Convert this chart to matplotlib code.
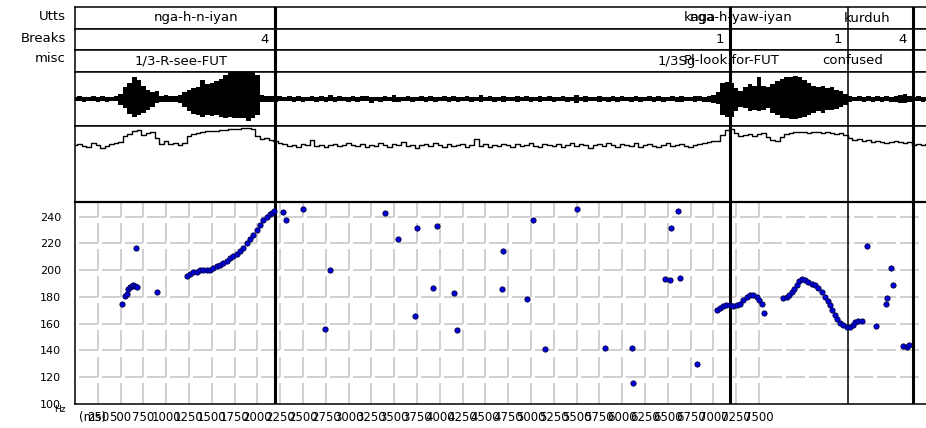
import numpy as np
import matplotlib.pyplot as plt

plt.rcParams['font.family'] = 'DejaVu Sans'

W, H = 926, 428
MS_PX = 10.965          # ms per pixel on the time axis
X0, X1 = 75, 930        # panel edges in pixels
T_END = (X1 - X0) * MS_PX
FRAME = 50              # ms per frame for waveform / intensity

# boundaries (ms) and their break indices
bounds = [2193, 7182, 8476, 9189]
bound_lw = [2.2, 2.2, 1.1, 2.2]
breaks = ['4', '1', '1', '4']

# label tiers: (text, time in ms, alignment)
utts = [('nga-h-n-iyan', 1329, 'center'), ('kaga', 6676, 'left'),
        ('nga-h-yaw-iyan', 6740, 'left'), ('kurduh', 8685, 'center')]
misc = [('1/3-R-see-FUT', 1164, 'center'), ('1/3Sg', 6390, 'left'),
        ('Pl-look.for-FUT', 6676, 'left'), ('confused', 8531, 'center')]

# waveform envelope per frame (upper / lower magnitude)
wave_hi = [.08, .1, .07, .09, .12, .08, .1, .07, .09, .11,
           .2, .45, .6, .8, .72, .5, .35, .25, .3, .12, .15, .1, .12, .14, .25, .35, .4, .45,
           .7, .55, .6, .65, .75, .9, 1.0, 1.0, 1.0, 1.0, 1.0, 1.0, .9, .15, .12, .1, .12, .1,
           .08, .1, .07, .12, .09, .08, .11, .07, .1, .09,
           .13, .08, .1, .07, .09, .11, .08, .1, .12, .08,
           .09, .07, .1, .08, .14, .09, .08, .1, .07, .09,
           .11, .08, .1, .09, .07, .12, .08, .1, .09, .08,
           .1, .07, .09, .13, .08, .1, .09, .07, .11, .08,
           .09, .1, .08, .12, .07, .09, .1, .08, .11, .09,
           .08, .1, .07, .09, .15, .08, .1, .09, .08, .11,
           .07, .09, .1, .08, .12, .09, .08, .1, .07, .09,
           .11, .08, .1, .09, .08, .12, .07, .1, .09, .08,
           .1, .11, .09, .12, .15,
           .25, .6, .63, .6, .4, .3, .45, .55, .5, .8, .5, .45, .55, .65, .75,
           .8, .82, .85, .8, .7, .6, .5, .45, .48, .4, .45, .35, .3, .2, .12,
           .08, .1, .09, .12, .08, .1, .09, .11, .08, .1, .15, .18, .12, .09, .1, .08, .09]
wave_lo = [.09, .07, .1, .08, .09, .12, .07, .1, .08, .09,
           .22, .35, .55, .68, .6, .5, .4, .3, .15, .12, .1, .12, .1, .13, .3, .45, .55, .6,
           .65, .6, .62, .6, .65, .7, .68, .72, .7, .72, .8, .72, .6, .12, .1, .12, .1, .09,
           .09, .07, .1, .08, .11, .09, .07, .1, .08, .12,
           .08, .1, .07, .09, .11, .08, .1, .07, .09, .13,
           .08, .1, .09, .07, .1, .12, .08, .09, .1, .07,
           .09, .11, .08, .1, .07, .09, .12, .08, .1, .09,
           .07, .1, .08, .11, .09, .08, .1, .07, .12, .09,
           .08, .1, .09, .07, .11, .08, .1, .09, .08, .12,
           .09, .07, .1, .08, .13, .09, .1, .08, .07, .1,
           .09, .11, .08, .1, .07, .09, .12, .08, .1, .09,
           .08, .1, .07, .11, .09, .08, .1, .12, .09, .08,
           .1, .09, .11, .1, .14,
           .2, .6, .67, .65, .45, .3, .35, .45, .4, .45, .4, .35, .5, .6, .7,
           .72, .75, .75, .72, .68, .6, .5, .45, .5, .42, .4, .38, .3, .22, .12,
           .09, .08, .1, .09, .11, .08, .1, .09, .1, .12, .16, .14, .1, .08, .09, .1, .08]

# intensity contour per frame (dB)
intensity = [57, 58, 56, 55, 59, 57, 54, 56, 58, 59,
             60, 66, 68, 71, 72, 67, 69, 70, 64, 58, 61, 58, 59, 57, 59, 66, 68, 69,
             70, 71, 71, 71, 72, 72, 73, 73, 73, 74, 74, 73, 66, 63, 64, 62, 61, 59,
             58, 56, 57, 55, 58, 57, 62, 56, 57, 55,
             57, 58, 56, 57, 59, 57, 56, 58, 55, 57,
             56, 59, 57, 55, 58, 57, 60, 56, 57, 54,
             57, 58, 56, 59, 57, 55, 58, 56, 57, 58,
             55, 57, 63, 56, 58, 55, 57, 56, 58, 57,
             55, 58, 56, 57, 59, 56, 55, 58, 57, 56,
             58, 55, 57, 59, 56, 58, 57, 54, 57, 58,
             56, 59, 57, 55, 58, 57, 56, 59, 55, 57,
             58, 56, 55, 57, 59, 56, 57, 58, 56, 55,
             57, 58, 59, 60, 61,
             61, 67, 72, 73, 69, 66, 67, 68, 66, 68, 69, 65, 62, 61, 65, 68,
             69, 70, 70, 70, 69, 70, 70, 69, 70, 69, 68, 69, 67, 64, 62, 63,
             61, 62, 60, 61, 60, 59, 60, 61, 60, 59, 60, 57, 58, 57, 58]

# F0 track (ms, Hz)
pitch_t = [512, 548, 567, 584, 603, 622, 639, 658, 666, 680, 902,
           1225, 1261, 1297, 1334, 1371, 1407, 1444, 1480, 1516, 1554, 1590, 1626, 1663,
           1700, 1736, 1773, 1809, 1845, 1883, 1919, 1955, 1992, 2029, 2065, 2102, 2138,
           2157, 2182,
           2277, 2310, 2503, 2741, 2796, 3399, 3545, 3728, 3747, 3929, 3966, 4159, 4185,
           4679, 4696, 4953, 5025, 5154, 5501, 5811, 6104, 6122, 6469, 6524, 6535, 6615,
           6634, 6817,
           7043, 7072, 7102, 7138, 7182, 7218, 7256, 7292, 7328, 7365, 7401, 7438, 7475,
           7503, 7530, 7558,
           7766, 7804, 7832, 7859, 7887, 7913, 7939, 7968, 8004, 8041, 8078, 8114, 8150,
           8188, 8224, 8253, 8279, 8304, 8333, 8359, 8388, 8424, 8462, 8498, 8527, 8553,
           8589, 8626,
           8681, 8783, 8893, 8907, 8944, 8966, 9082, 9120, 9148]
pitch_hz = [175, 181, 182.5, 186, 187.5, 188, 188.8, 188, 216.8, 187.5, 184,
            196, 197.5, 198.8, 199, 199.8, 199.8, 199.8, 200, 201.8, 203, 203.8, 205.5, 207,
            208.8, 210.3, 212.3, 214.3, 216.8, 220, 223, 226.3, 230, 233.8, 237.5, 240, 241.8,
            242.5, 244,
            243.8, 237.5, 245.8, 155.8, 200, 242.5, 223.3, 165.8, 231.8, 186.8, 233.3, 183.3, 155,
            185.8, 214.3, 178.3, 237.5, 140.8, 245.8, 141.8, 141.8, 115.8, 193.3, 192.5, 231.8, 244.3,
            194.3, 130,
            170, 171.8, 173.3, 174.3, 173.8, 173, 173.8, 175, 177.5, 180, 181.3, 181.8, 180,
            177.5, 174.5, 168.3,
            179.3, 180, 181.8, 183.8, 185.8, 188.8, 191.8, 193.3, 192.5, 191.3, 190, 188.8, 186.8,
            183.8, 180, 176.8, 173.8, 170, 166.3, 163.3, 160.8, 159.3, 157.5, 157.5, 159.3, 161.3,
            161.8, 161.8,
            218.3, 158.3, 175, 179.3, 201.8, 189.3, 143.3, 142.5, 144.3]

hz_ticks = list(range(100, 241, 20))
ms_ticks = list(range(250, 7501, 250))

fig = plt.figure(figsize=(W / 100, H / 100), dpi=100)


def band(top, bot):
    ax = fig.add_axes([X0 / W, 1 - bot / H, (X1 - X0) / W, (bot - top) / H])
    ax.set_xlim(0, T_END)
    ax.set_xticks([])
    ax.set_yticks([])
    for s in ax.spines.values():
        s.set_linewidth(1.1)
    for b, lw in zip(bounds, bound_lw):
        ax.axvline(b, color='black', lw=lw, zorder=3)
    return ax


ax_u = band(7, 29)
ax_b = band(29, 50)
ax_m = band(50, 72)
ax_w = band(72, 126)
ax_i = band(126, 202)
ax_p = band(202, 404)

for name, y in [('Utts', 17), ('Breaks', 38), ('misc', 59)]:
    fig.text(66 / W, 1 - y / H, name, ha='right', va='center', fontsize=9.5)

for ax, tier in [(ax_u, utts), (ax_m, misc)]:
    for txt, t, ha in tier:
        ax.text(t, 0.5, txt, ha=ha, va='center', fontsize=9.5,
                transform=ax.get_xaxis_transform())

for b, lab in zip(bounds, breaks):
    ax_b.annotate(lab, (b, 0.5), xycoords=('data', 'axes fraction'),
                  xytext=(-6, 0), textcoords='offset pixels',
                  ha='right', va='center', fontsize=9.5)

# waveform
wt = np.arange(len(wave_hi)) * FRAME
ax_w.fill_between(wt, -np.array(wave_lo), wave_hi, step='mid', color='black', lw=0)
ax_w.set_ylim(-1, 1)

# intensity
it = np.arange(len(intensity)) * FRAME
ax_i.plot(it, intensity, drawstyle='steps-mid', color='black', lw=1.0)
ax_i.set_ylim(0, 76)

# pitch panel
ax_p.set_ylim(100, 251)
ax_p.spines['top'].set_linewidth(1.6)
ax_p.spines['right'].set_visible(False)

# broken grid: each cell keeps its bottom and right edges
gx = [0] + ms_ticks
gap_t, gap_hz = 44, 4.5
for y in hz_ticks[1:]:
    cells = list(zip(gx[:-1], gx[1:])) + [(c, c + 250) for c in range(7500, 9250, 250)]
    ax_p.hlines([y] * len(cells), [a + gap_t for a, _ in cells], [b for _, b in cells],
                color='#c8c8c8', lw=1.2, zorder=1)
levels = hz_ticks + [251]
for x in ms_ticks:
    lo = levels[:-1]
    hi = [u - gap_hz if u < 251 else u for u in levels[1:]]
    ax_p.vlines([x] * len(lo), lo, hi, color='#c8c8c8', lw=1.2, zorder=1)

ax_p.plot(pitch_t, pitch_hz, 'o', ms=3.8, mfc='#0000dd', mec='#000044', mew=0.6, zorder=4)

ax_p.set_yticks(hz_ticks)
ax_p.set_yticklabels([str(v) for v in hz_ticks])
ax_p.set_xticks(ms_ticks)
ax_p.set_xticklabels([str(v) for v in ms_ticks])
ax_p.tick_params(axis='y', length=0, pad=10, labelsize=8)
ax_p.tick_params(axis='x', length=0, pad=5, labelsize=8.5)
ax_p.annotate('(ms)', (0, 0), xycoords='axes fraction', xytext=(4, -13),
              textcoords='offset pixels', ha='left', va='center', fontsize=8.5)
fig.text(60 / W, 1 - 409 / H, 'Hz', ha='center', va='center', fontsize=6.5)

fig.savefig('out.png', dpi=100)
